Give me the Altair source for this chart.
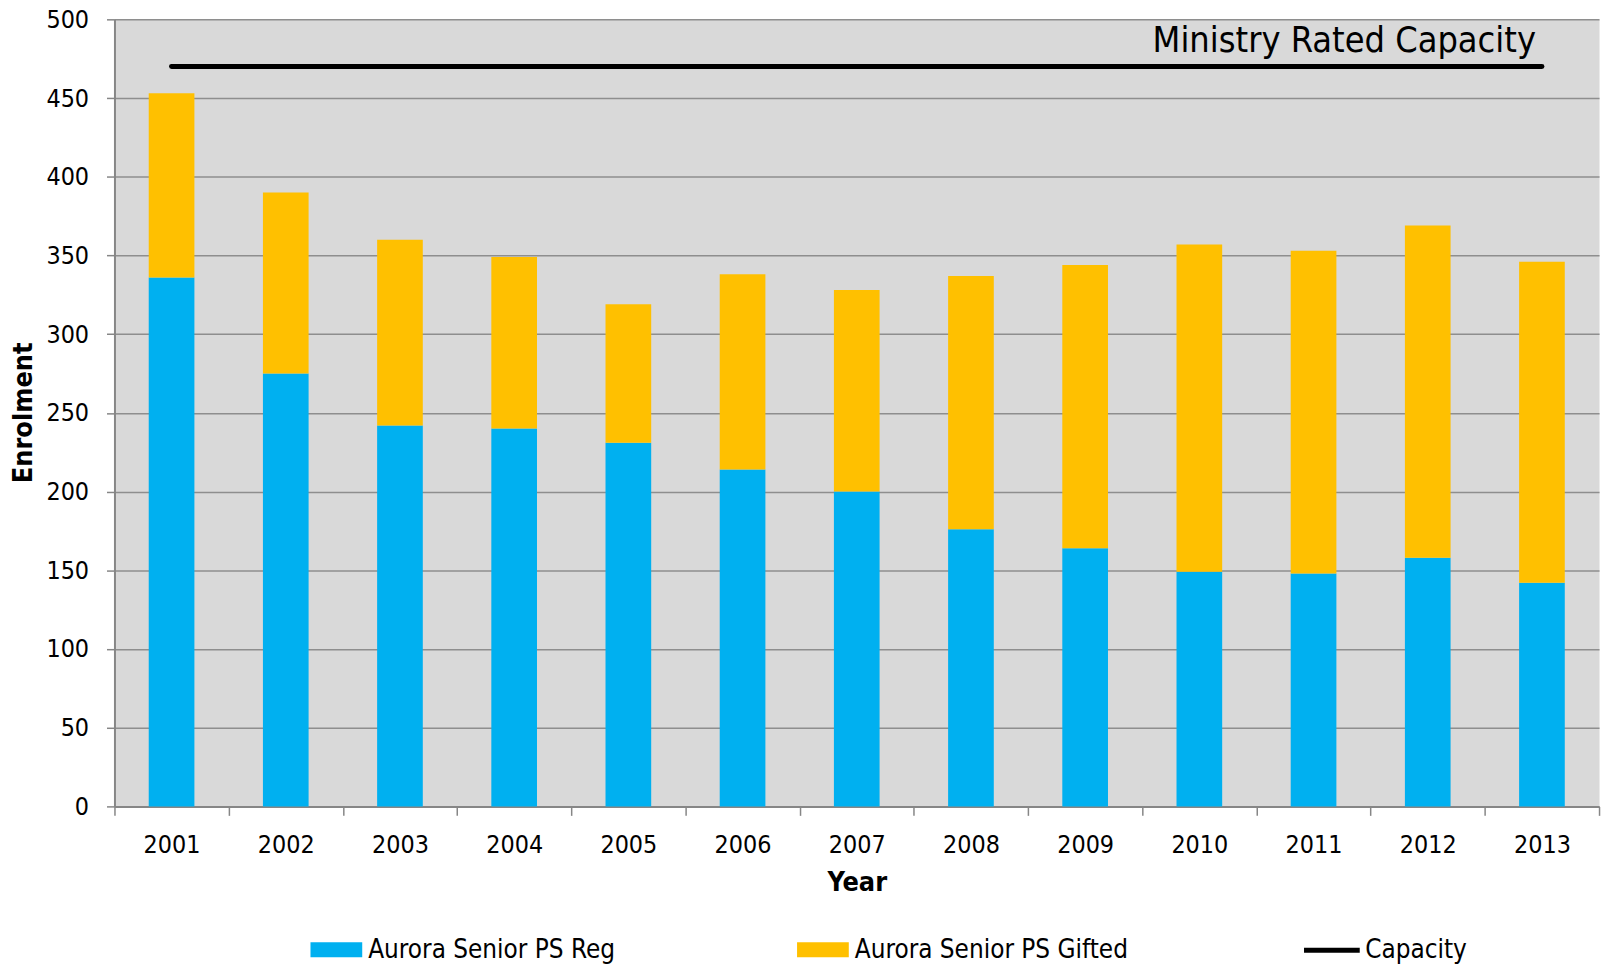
import altair as alt
import pandas as pd

years = ["2001", "2002", "2003", "2004", "2005", "2006", "2007",
         "2008", "2009", "2010", "2011", "2012", "2013"]
reg = [336, 275, 242, 240, 231, 214, 200, 176, 164, 149, 148, 158, 142]
gifted = [117, 115, 118, 109, 88, 124, 128, 161, 180, 208, 205, 211, 204]
capacity = [470, 470, 470, 470, 470, 470, 470, 470, 470, 470, 470, 470, 470]
y_ticks = [0, 50, 100, 150, 200, 250, 300, 350, 400, 450, 500]

REG = "Aurora Senior PS Reg"
GIF = "Aurora Senior PS Gifted"
CAP = "Capacity"
FONT = "DejaVu Sans Condensed"

df = pd.DataFrame({"year": years, "reg": reg, "gifted": gifted, "capacity": capacity})
df["total"] = df["reg"] + df["gifted"]
df["s_reg"] = REG
df["s_gif"] = GIF
df["s_cap"] = CAP

ann = pd.DataFrame({"year": [years[-1]], "capacity": [capacity[-1]],
                    "label": ["Ministry Rated Capacity"]})

x_enc = alt.X("year:N",
              scale=alt.Scale(paddingInner=0, paddingOuter=0),
              axis=alt.Axis(title="Year", labelAngle=0, tickBand="extent",
                            tickSize=9, labelPadding=17, grid=False,
                            titleX=746, titleY=77, titleBaseline="middle",
                            titleAlign="center", titleAnchor="start"))
y_scale = alt.Scale(domain=[0, 500], nice=False)
y_axis = alt.Axis(title="Enrolment", values=y_ticks, tickSize=8, labelPadding=18,
                  grid=True, titleX=-91, titleY=395, titleAngle=270,
                  titleBaseline="middle", titleAlign="center", titleAnchor="start")

base = alt.Chart(df)
bar_w = alt.RelativeBandSize(0.4)
rect_sym = "M-1,-0.29H1V0.29H-1Z"

bars_reg = base.mark_bar(width=bar_w).encode(
    x=x_enc,
    y=alt.Y("reg:Q", scale=y_scale, axis=y_axis),
    fill=alt.Fill("s_reg:N",
                  scale=alt.Scale(domain=[REG], range=["#00b0f0"]),
                  legend=alt.Legend(title=None, orient="none", legendX=197, legendY=909,
                                    symbolType=rect_sym, symbolSize=2704,
                                    symbolStrokeWidth=0, labelOffset=6)),
)

bars_gif = base.mark_bar(width=bar_w).encode(
    x=alt.X("year:N"),
    y=alt.Y("reg:Q"),
    y2=alt.Y2("total:Q"),
    color=alt.Color("s_gif:N",
                    scale=alt.Scale(domain=[GIF], range=["#ffc000"]),
                    legend=alt.Legend(title=None, orient="none", legendX=686, legendY=909,
                                      symbolType=rect_sym, symbolSize=2704,
                                      symbolStrokeWidth=0, labelOffset=6)),
)

cap_line = base.mark_line(strokeWidth=5, strokeCap="round").encode(
    x=alt.X("year:N"),
    y=alt.Y("capacity:Q"),
    stroke=alt.Stroke("s_cap:N",
                      scale=alt.Scale(domain=[CAP], range=["#000000"]),
                      legend=alt.Legend(title=None, orient="none", legendX=1193, legendY=905,
                                        symbolType="stroke", symbolSize=3136,
                                        symbolStrokeWidth=5, labelOffset=3)),
)

cap_text = alt.Chart(ann).mark_text(
    align="right", baseline="alphabetic", dx=-6, dy=-15,
    font=FONT, fontSize=36, color="#000000"
).encode(
    x=alt.X("year:N"),
    y=alt.Y("capacity:Q"),
    text="label:N",
)

chart = alt.layer(bars_reg, bars_gif, cap_line, cap_text).resolve_scale(
    fill="independent", color="independent", stroke="independent"
).properties(
    width=1492, height=791,
    autosize=alt.AutoSizeParams(type="none"),
    padding={"left": 107, "top": 9, "right": 8, "bottom": 157},
).configure_view(
    fill="#d9d9d9", stroke="transparent"
).configure_axis(
    labelFont=FONT, labelFontSize=25, labelColor="#000000",
    titleFont=FONT, titleFontSize=27, titleFontWeight="bold", titleColor="#000000",
    domainColor="#868686", domainWidth=2, tickColor="#868686", tickWidth=1.5,
    gridColor="#8e8e8e", gridWidth=1.5,
).configure_legend(
    labelFont=FONT, labelFontSize=26, labelColor="#000000", padding=0,
    symbolOpacity=1, labelLimit=0,
)

chart.save("out.html", embed_options={"renderer": "svg", "actions": False})
